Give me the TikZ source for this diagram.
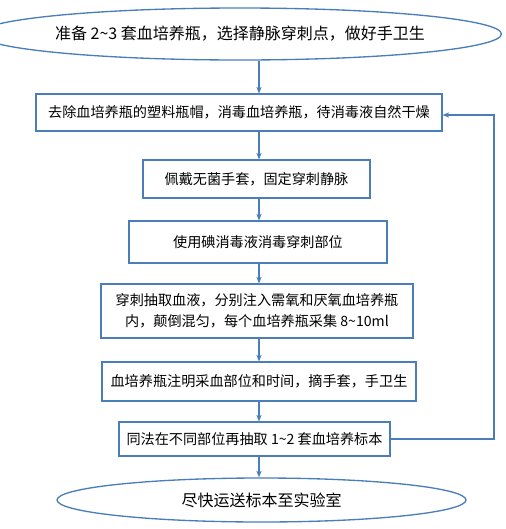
\documentclass[tikz,border=0pt]{standalone}
\usepackage{fontspec}
\usepackage{tikz}
\usetikzlibrary{calc,positioning,shapes.geometric,arrows.meta}
\newfontfamily\cjk{Noto Sans CJK SC}
\definecolor{flowblue}{HTML}{4A7EBB}

\tikzset{
  stepbox/.style={draw=flowblue, line width=0.9pt, rectangle, inner sep=0pt,
    align=center, font=\cjk\fontsize{10.6}{15.5}\selectfont},
  capsule/.style={draw=flowblue, line width=1pt, ellipse, inner sep=0pt,
    align=center, font=\cjk\fontsize{12}{14}\selectfont},
  flow/.style={draw=flowblue, line width=0.9pt, -{Stealth[length=5pt,width=4pt]}}
}

\begin{document}
\begin{tikzpicture}[x=0.75pt,y=-0.75pt]
  \useasboundingbox (0,0) rectangle (506,529);
  \coordinate (spine) at (259,0);
  \coordinate (loop) at (494,0);

  \node[capsule, minimum width=436*0.75pt, minimum height=52*0.75pt] (prep) at (240,34)
    {准备 2\textasciitilde3 套血培养瓶，选择静脉穿刺点，做好手卫生};
  \node[stepbox, minimum width=406*0.75pt, minimum height=37*0.75pt] (uncap) at (239,112.5)
    {去除血培养瓶的塑料瓶帽，消毒血培养瓶，待消毒液自然干燥};
  \node[stepbox, minimum width=227*0.75pt, minimum height=38*0.75pt] (glove) at (256.5,179)
    {佩戴无菌手套，固定穿刺静脉};
  \node[stepbox, minimum width=258*0.75pt, minimum height=42*0.75pt] (iodine) at (258,242)
    {使用碘消毒液消毒穿刺部位};
  \node[stepbox, minimum width=312*0.75pt, minimum height=54*0.75pt] (draw) at (257,311)
    {穿刺抽取血液，分别注入需氧和厌氧血培养瓶\\内，颠倒混匀，每个血培养瓶采集 8\textasciitilde10ml};
  \node[stepbox, minimum width=314*0.75pt, minimum height=39*0.75pt] (label) at (259,381.5)
    {血培养瓶注明采血部位和时间，摘手套，手卫生};
  \node[stepbox, minimum width=271*0.75pt, minimum height=34*0.75pt] (redo) at (254.5,439)
    {同法在不同部位再抽取 1\textasciitilde2 套血培养标本};
  \node[capsule, minimum width=409*0.75pt, minimum height=44*0.75pt] (send) at (261.5,500)
    {尽快运送标本至实验室};

  \draw[flow] (prep.south -| spine) -- (uncap.north -| spine);
  \draw[flow] (uncap.south -| spine) -- (glove.north -| spine);
  \draw[flow] (glove.south -| spine) -- (iodine.north -| spine);
  \draw[flow] (iodine.south -| spine) -- (draw.north -| spine);
  \draw[flow] (draw.south -| spine) -- (label.north -| spine);
  \draw[flow] (label.south -| spine) -- (redo.north -| spine);
  \draw[flow] (redo.south -| spine) -- (send.north -| spine);
  \draw[flow] (redo.east) -- (redo.east -| loop) |- ([yshift=-2.5*0.75pt]uncap.east);
\end{tikzpicture}
\end{document}
